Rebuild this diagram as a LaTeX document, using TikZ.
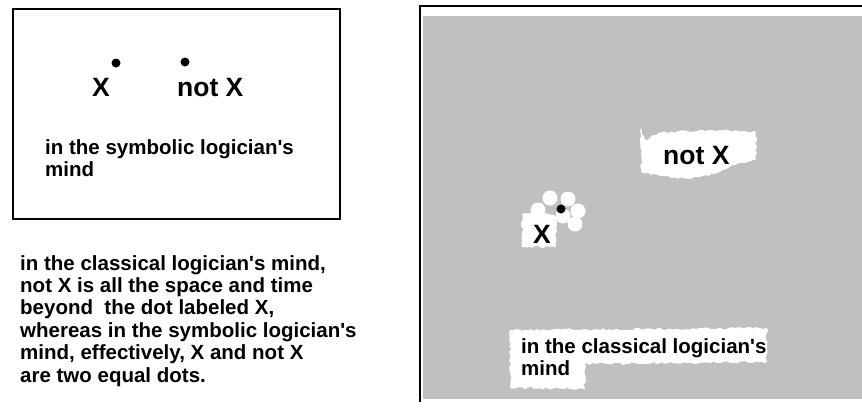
\documentclass[tikz,border=0pt]{standalone}
\usepackage{fontspec}
\setmainfont{Liberation Sans}
\usetikzlibrary{positioning,decorations.pathmorphing}
\definecolor{spacegray}{RGB}{192,192,192}

\begin{document}
\begin{tikzpicture}[x=1pt, y=-1pt,
  txt/.style={inner sep=0pt, font=\fontsize{20.5}{22.4}\selectfont\bfseries, align=left},
  lab/.style={inner sep=0pt, font=\fontsize{26.5}{28}\selectfont\bfseries},
  dot/.style={circle, fill=black, inner sep=0pt, minimum size=9pt},
  blob/.style={fill=white, decorate, decoration={random steps, segment length=3pt, amplitude=1.2pt}}]
  \useasboundingbox (0,0) rectangle (862,407);
  \clip (0,0) rectangle (862,407);

  % Symbolic box
  \node[draw, rectangle, line width=1.5pt, minimum width=327pt, minimum height=210pt, anchor=north west] (symbox) at (12,8) {};
  \node[dot] (dotX) at (116,63) {};
  \node[lab, anchor=base west] (labX) at (92,96) {X};
  \node[dot] (dotNotX) at (185,62) {};
  \node[lab, anchor=base west] (labNotX) at (177,96) {not X};
  \node[txt, anchor=north west] (symcap) at (45,139) {in the symbolic logician\textquotesingle s\\mind};

  % Note under the box
  \node[txt, anchor=north west] (note) at (20,255) {in the classical logician\textquotesingle s mind,\\not X is all the space and time\\beyond\ \ the dot labeled X,\\whereas in the symbolic logician\textquotesingle s\\mind, effectively, X and not X\\are two equal dots.};

  % Classical space
  \fill[spacegray] (423,16) rectangle (870,399);
  \draw[line width=1.5pt] (420,402) -- (420,6) -- (870,6);
  \fill[blob] (641,128) -- (645,140) -- (660,133) -- (700,130) -- (745,131) -- (756,132)
    -- (756,160) -- (735,165) -- (720,172) -- (690,179) -- (660,176) -- (641,172) -- cycle;
  \fill[blob] (522,214) -- (540,212) -- (556,216) -- (556,247) -- (522,247) -- cycle;
  \foreach \cx/\cy in {550/198, 568/199, 578/211, 575/224, 563/216, 538/210}
    \fill[white] (\cx,\cy) circle (7.5);
  \fill[blob] (510,330) -- (767,328) -- (767,362) -- (585,364) -- (585,389) -- (510,388) -- cycle;
  \node[dot] (dotXc) at (561,209) {};
  \node[lab, anchor=base west] (labXc) at (533,243) {X};
  \node[lab, anchor=base west] (labNotXc) at (663,164) {not X};
  \node[txt, anchor=north west] (classcap) at (521,338) {in the classical logician\textquotesingle s\\mind};
\end{tikzpicture}
\end{document}
